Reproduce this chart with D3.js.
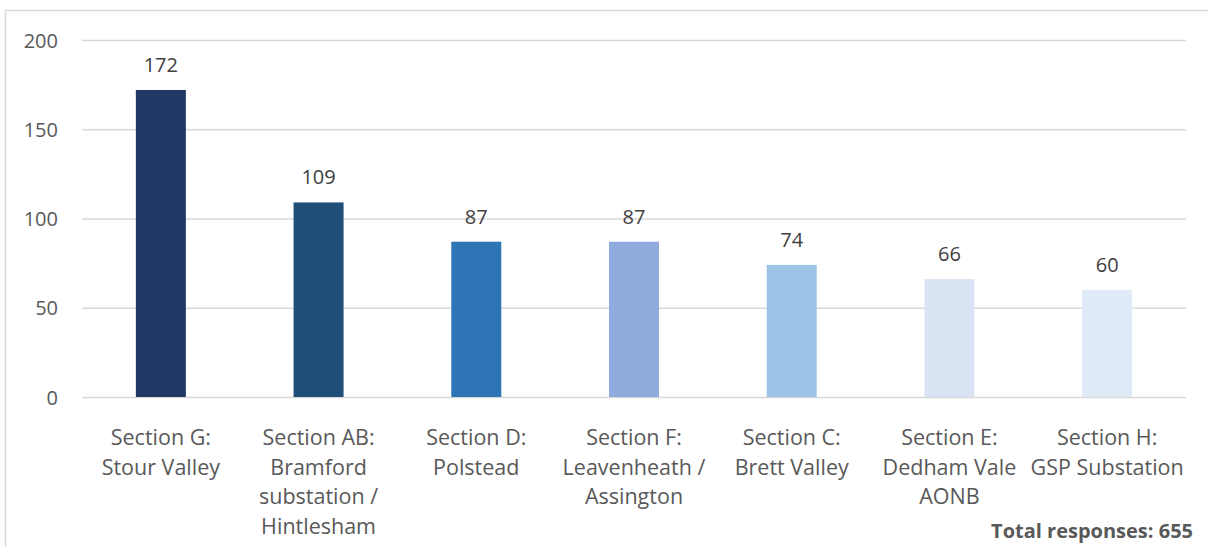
<!DOCTYPE html>
<html>
<head>
<meta charset="utf-8">
<script src="https://cdn.jsdelivr.net/npm/d3@7"></script>
<style>
  html, body { margin: 0; padding: 0; background: #fff; }
  svg { display: block; }
  text { font-family: "Open Sans", "Noto Sans", sans-serif; }
</style>
</head>
<body>
<svg id="chart" width="1208" height="547"></svg>
<script>
const categories = [
  ["Section G:", "Stour Valley"],
  ["Section AB:", "Bramford", "substation /", "Hintlesham"],
  ["Section D:", "Polstead"],
  ["Section F:", "Leavenheath /", "Assington"],
  ["Section C:", "Brett Valley"],
  ["Section E:", "Dedham Vale", "AONB"],
  ["Section H:", "GSP Substation"]
];
const values = [172, 109, 87, 87, 74, 66, 60];
const barColors = ["#203864", "#1F4E79", "#2E75B6", "#8FAADC", "#9DC3E6", "#DAE3F3", "#DEEBF7"];
const yTicks = [0, 50, 100, 150, 200];
const footnote = "Total responses: 655";

const svg = d3.select("#chart");
const W = 1208, H = 547;

// outer chart border
svg.append("rect")
  .attr("x", 5.5).attr("y", 10.5)
  .attr("width", W + 10).attr("height", H + 10)
  .attr("fill", "#fff").attr("stroke", "#d9d9d9").attr("stroke-width", 1.5);

const plot = { left: 82, right: 1186, top: 40, bottom: 397 };
const keys = categories.map((c, i) => i);

const x = d3.scaleBand().domain(keys).range([plot.left, plot.right]).paddingInner(0.683).paddingOuter(0.3415);
const y = d3.scaleLinear().domain([0, 200]).range([plot.bottom, plot.top]);

// gridlines
const yAxis = d3.axisLeft(y).tickValues(yTicks).tickSize(-(plot.right - plot.left)).tickPadding(24);
const gy = svg.append("g").attr("transform", `translate(${plot.left},0)`).call(yAxis);
gy.select(".domain").remove();
gy.selectAll(".tick line").attr("stroke", "#d9d9d9").attr("stroke-width", 1.5);
gy.selectAll(".tick text")
  .attr("fill", "#595959").attr("font-size", 20)
  .attr("x", -24).attr("dy", null).attr("y", 7);

// bars
svg.append("g").selectAll("rect").data(values).join("rect")
  .attr("x", (d, i) => x(i))
  .attr("width", x.bandwidth())
  .attr("y", d => y(d))
  .attr("height", d => y(0) - y(d))
  .attr("fill", (d, i) => barColors[i]);

// value labels
svg.append("g").selectAll("text").data(values).join("text")
  .attr("x", (d, i) => x(i) + x.bandwidth() / 2)
  .attr("y", d => y(d) - 18)
  .attr("text-anchor", "middle")
  .attr("fill", "#404040")
  .attr("font-size", 20)
  .text(d => d);

// category labels
const gx = svg.append("g");
categories.forEach((lines, i) => {
  const t = gx.append("text")
    .attr("x", x(i) + x.bandwidth() / 2)
    .attr("y", 445)
    .attr("text-anchor", "middle")
    .attr("fill", "#595959")
    .attr("font-size", 21.5);
  lines.forEach((ln, j) => {
    t.append("tspan").attr("x", x(i) + x.bandwidth() / 2).attr("y", 445 + j * 29.5).text(ln);
  });
});

// footnote
svg.append("text")
  .attr("x", 1193).attr("y", 538)
  .attr("text-anchor", "end")
  .attr("fill", "#595959")
  .attr("font-size", 20)
  .attr("font-weight", "bold")
  .text(footnote);
</script>
</body>
</html>
